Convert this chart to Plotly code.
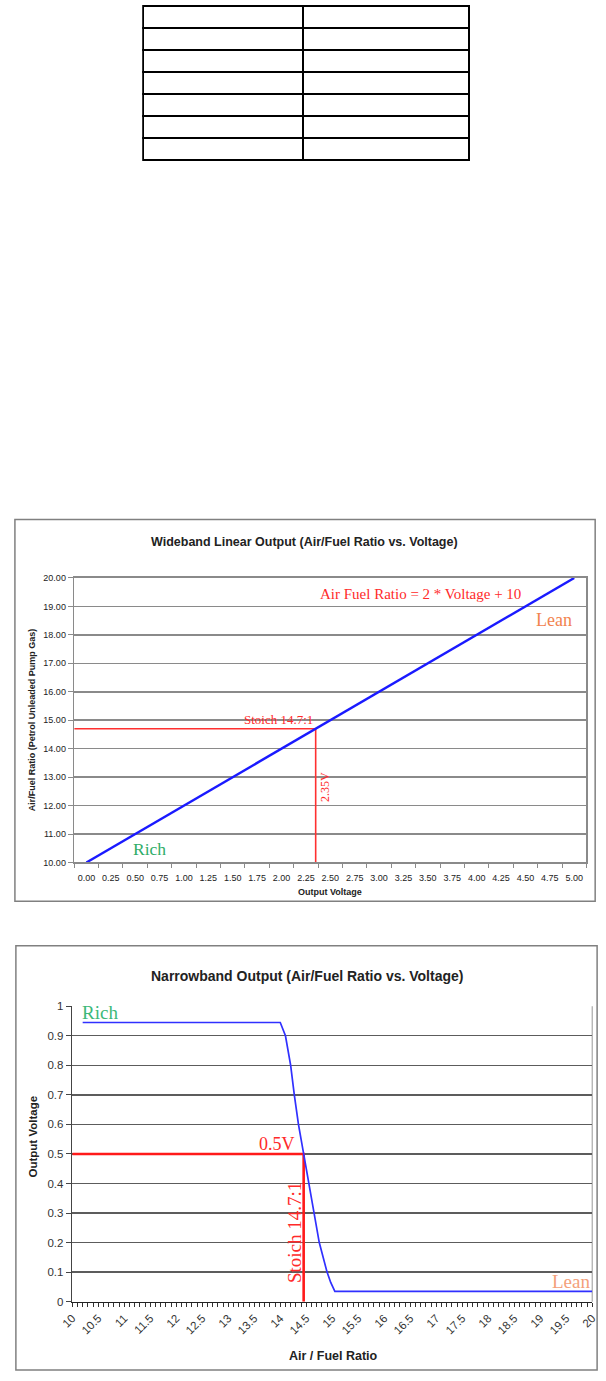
import plotly.graph_objects as go

W, H = 606, 1381

# ---------------- data ----------------
# empty table at top of page
table_header = ["", ""]
table_col1 = ["", "", "", "", "", ""]
table_col2 = ["", "", "", "", "", ""]

# Wideband chart
wb_voltage = [0.00, 0.25, 0.50, 0.75, 1.00, 1.25, 1.50, 1.75, 2.00, 2.25, 2.50,
              2.75, 3.00, 3.25, 3.50, 3.75, 4.00, 4.25, 4.50, 4.75, 5.00]
wb_afr = [10.0, 10.5, 11.0, 11.5, 12.0, 12.5, 13.0, 13.5, 14.0, 14.5, 15.0,
          15.5, 16.0, 16.5, 17.0, 17.5, 18.0, 18.5, 19.0, 19.5, 20.0]
wb_x_ticklabels = ["0.00", "0.25", "0.50", "0.75", "1.00", "1.25", "1.50", "1.75",
                   "2.00", "2.25", "2.50", "2.75", "3.00", "3.25", "3.50", "3.75",
                   "4.00", "4.25", "4.50", "4.75", "5.00"]
wb_y_ticks = [10, 11, 12, 13, 14, 15, 16, 17, 18, 19, 20]
wb_stoich_afr = 14.7
wb_stoich_voltage = 2.35

# Narrowband chart
nb_afr = [10.2, 14.0, 14.1, 14.2, 14.27, 14.35, 14.45, 14.55, 14.64, 14.75,
          14.9, 14.97, 15.05, 20.0]
nb_voltage = [0.945, 0.945, 0.90, 0.80, 0.70, 0.60, 0.50, 0.40, 0.30, 0.20,
              0.10, 0.065, 0.035, 0.035]
nb_x_ticks = [10, 10.5, 11, 11.5, 12, 12.5, 13, 13.5, 14, 14.5, 15, 15.5, 16,
              16.5, 17, 17.5, 18, 18.5, 19, 19.5, 20]
nb_x_ticklabels = ["10", "10.5", "11", "11.5", "12", "12.5", "13", "13.5", "14",
                   "14.5", "15", "15.5", "16", "16.5", "17", "17.5", "18", "18.5",
                   "19", "19.5", "20"]
nb_y_ticks = [0, 0.1, 0.2, 0.3, 0.4, 0.5, 0.6, 0.7, 0.8, 0.9, 1]
nb_y_ticklabels = ["0", "0.1", "0.2", "0.3", "0.4", "0.5", "0.6", "0.7", "0.8", "0.9", "1"]
nb_stoich_voltage = 0.5
nb_stoich_marker_afr = 14.45   # where the 14.7:1 marker is drawn on the axis

# ---------------- helpers ----------------
SANS = "Liberation Sans, Arial, sans-serif"
SERIF = "Liberation Serif, Times New Roman, serif"


def px(x):
    return x / W


def py(y):
    return 1 - y / H


WB_X_RANGE = [-0.125, 5.125]
WB_Y_RANGE = [10, 20]
NB_X_RANGE = [10, 20]
NB_Y_RANGE = [0, 1]

fig = go.Figure()

# ---- table ----
fig.add_trace(go.Table(
    domain=dict(x=[px(135), px(471)], y=[py(158), py(0)]),
    columnwidth=[165, 171],
    header=dict(values=table_header, height=22, fill_color="white",
                line=dict(color="black", width=1.8)),
    cells=dict(values=[table_col1, table_col2], height=22, fill_color="white",
               line=dict(color="black", width=1.8)),
))

# ---- wideband chart ----
fig.add_trace(go.Scatter(
    x=[WB_X_RANGE[0], wb_stoich_voltage, wb_stoich_voltage],
    y=[wb_stoich_afr, wb_stoich_afr, WB_Y_RANGE[0]],
    mode="lines", line=dict(color="#ff3030", width=1.6),
    xaxis="x", yaxis="y", showlegend=False, hoverinfo="skip"))
fig.add_trace(go.Scatter(
    x=wb_voltage, y=wb_afr, mode="lines",
    line=dict(color="#1a1aff", width=2.4),
    xaxis="x", yaxis="y", showlegend=False))

# ---- narrowband chart ----
fig.add_trace(go.Scatter(
    x=[NB_X_RANGE[0], nb_stoich_marker_afr, nb_stoich_marker_afr],
    y=[nb_stoich_voltage, nb_stoich_voltage, NB_Y_RANGE[0]],
    mode="lines", line=dict(color="#ff1a1a", width=2.6),
    xaxis="x2", yaxis="y2", showlegend=False, hoverinfo="skip"))
fig.add_trace(go.Scatter(
    x=nb_afr, y=nb_voltage, mode="lines",
    line=dict(color="#3030ff", width=1.7),
    xaxis="x2", yaxis="y2", showlegend=False))

GRAY = "#8a8a8a"

fig.update_layout(
    width=W, height=H, autosize=False,
    margin=dict(l=0, r=0, t=0, b=0),
    paper_bgcolor="white", plot_bgcolor="white",
    showlegend=False,
    xaxis=dict(
        domain=[px(64), px(591)], range=WB_X_RANGE, anchor="y",
        tickmode="array", tickvals=wb_voltage, ticktext=wb_x_ticklabels,
        ticks="outside", ticklen=6, tickcolor="rgba(0,0,0,0)",
        minor=dict(ticks="outside", ticklen=4, tickcolor=GRAY, tick0=-0.125,
                   dtick=0.25, showgrid=False),
        showgrid=False, zeroline=False,
        showline=True, linecolor=GRAY, linewidth=1.5, mirror=True,
        tickfont=dict(family=SANS, size=9, color="#222"),
        fixedrange=True),
    yaxis=dict(
        domain=[py(864), py(577)], range=WB_Y_RANGE, anchor="x",
        tickmode="array", tickvals=wb_y_ticks, tickformat=".2f",
        ticks="outside", ticklen=5, tickcolor=GRAY,
        showgrid=True, gridcolor=GRAY, gridwidth=1.5, zeroline=False,
        showline=True, linecolor=GRAY, linewidth=1.5, mirror=True,
        tickfont=dict(family=SANS, size=9, color="#222"),
        fixedrange=True),
    xaxis2=dict(
        domain=[px(62), px(597)], range=NB_X_RANGE, anchor="y2",
        tickmode="array", tickvals=nb_x_ticks, ticktext=nb_x_ticklabels,
        tickangle=-45,
        ticks="outside", ticklen=4, tickcolor="#333",
        minor=dict(ticks="outside", ticklen=4, tickcolor="#333", tick0=10,
                   dtick=0.1, showgrid=False),
        showgrid=False, zeroline=False,
        showline=True, linecolor="#222", linewidth=1.5,
        mirror=False,
        tickfont=dict(family=SANS, size=11.5, color="#333"),
        fixedrange=True),
    yaxis2=dict(
        domain=[py(1307), py(1009)], range=NB_Y_RANGE, anchor="x2",
        tickmode="array", tickvals=nb_y_ticks, ticktext=nb_y_ticklabels,
        ticks="outside", ticklen=5, tickcolor="#444",
        showgrid=True, gridcolor="#5c5c5c", gridwidth=1.3, zeroline=False,
        showline=True, linecolor="#444", linewidth=1.5,
        tickfont=dict(family=SANS, size=11.5, color="#333"),
        fixedrange=True),
)

# chart frames and plot-area border
fig.add_shape(type="rect", xref="paper", yref="paper",
              x0=px(3), x1=px(600), y0=py(903), y1=py(518),
              line=dict(color="#808080", width=1.5), layer="below")
fig.add_shape(type="rect", xref="paper", yref="paper",
              x0=px(4), x1=px(602), y0=py(1376), y1=py(948),
              line=dict(color="#808080", width=1.5), layer="below")
# right border of the narrowband plot area
fig.add_shape(type="line", xref="paper", yref="paper",
              x0=px(597), x1=px(597), y0=py(1307), y1=py(1009),
              line=dict(color="#b0b0b0", width=1.3), layer="below")


def ann(text, x, y, size, color="#222", family=SANS, bold=False, angle=0):
    if bold:
        text = "<b>" + text + "</b>"
    fig.add_annotation(text=text, x=px(x), y=py(y), xref="paper", yref="paper",
                       xanchor="center", yanchor="middle", showarrow=False,
                       textangle=angle,
                       font=dict(family=family, size=size, color=color))


# wideband texts
ann("Wideband Linear Output (Air/Fuel Ratio vs. Voltage)", 301, 541, 12.5, bold=True)
ann("Air/Fuel Ratio (Petrol Unleaded Pump Gas)", 20, 720, 9, bold=True, angle=-90)
ann("Output Voltage", 327, 894, 9, bold=True)
ann("Air Fuel Ratio = 2 * Voltage + 10", 420, 593, 15, color="#ff2a2a", family=SERIF)
ann("Lean", 558, 619, 18, color="#f2834f", family=SERIF)
ann("Stoich 14.7:1", 274, 720, 13, color="#ff2a2a", family=SERIF)
ann("2.35V", 322, 788, 12, color="#ff2a2a", family=SERIF, angle=-90)
ann("Rich", 141, 850, 17.5, color="#2fad68", family=SERIF)

# narrowband texts
ann("Narrowband Output (Air/Fuel Ratio vs. Voltage)", 303, 978, 14, bold=True)
ann("Output Voltage", 22, 1140, 11.5, bold=True, angle=-90)
ann("Air / Fuel Ratio", 331, 1362, 12.5, bold=True)
ann("Rich", 91, 1015, 19, color="#3cb878", family=SERIF)
ann("0.5V", 273, 1148, 18, color="#ff2a2a", family=SERIF)
ann("Stoich 14.7:1", 290, 1237, 19, color="#ff2a2a", family=SERIF, angle=-90)
ann("Lean", 575, 1287, 19, color="#f4a07a", family=SERIF)

fig.write_html("out.html",
               config={"displayModeBar": False, "staticPlot": True},
               post_script="document.body.style.margin='0';"
                           "document.body.style.overflow='hidden';")
